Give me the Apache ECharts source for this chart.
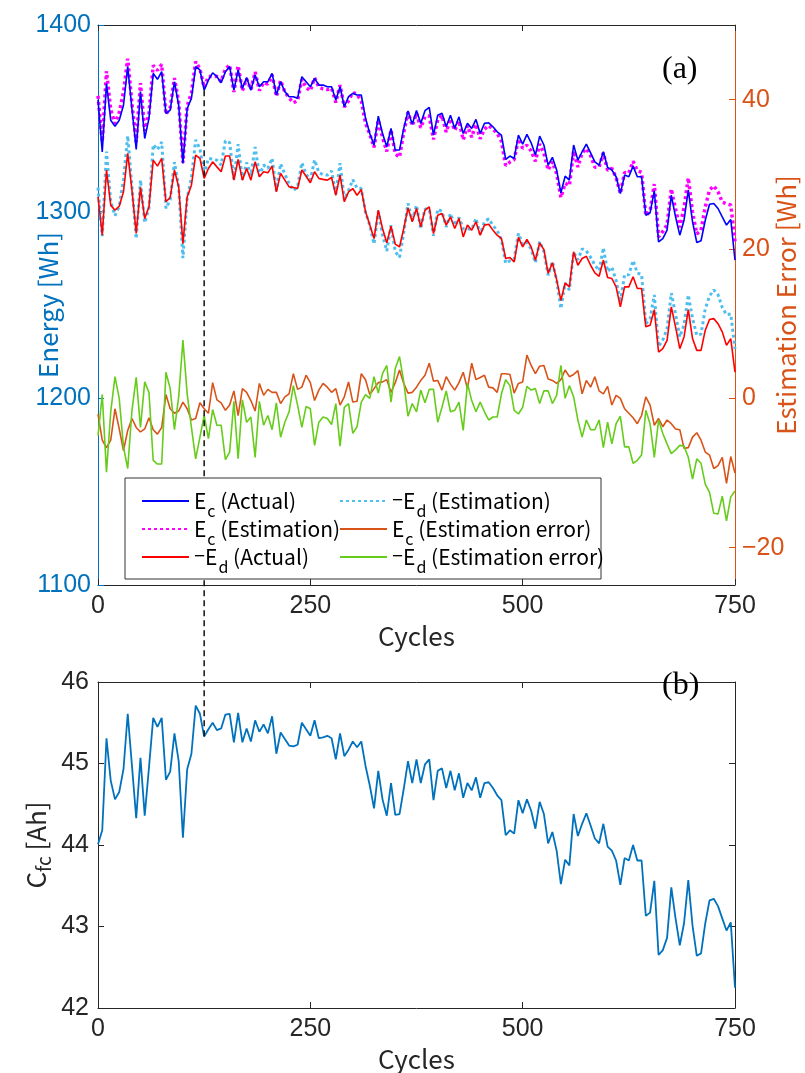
<!DOCTYPE html>
<html><head><meta charset="utf-8">
<script src="https://cdn.jsdelivr.net/npm/echarts@6/dist/echarts.min.js"></script>
<style>html,body{margin:0;padding:0;background:#fff}#c{width:805px;height:1073px}</style>
</head><body><div id="c"></div>
<script>
const cycles = [0,5,10,15,20,25,30,35,40,45,50,55,60,65,70,75,80,85,90,95,100,105,110,115,120,125,130,135,140,145,150,155,160,165,170,175,180,185,190,195,200,205,210,215,220,225,230,235,240,245,250,255,260,265,270,275,280,285,290,295,300,305,310,315,320,325,330,335,340,345,350,355,360,365,370,375,380,385,390,395,400,405,410,415,420,425,430,435,440,445,450,455,460,465,470,475,480,485,490,495,500,505,510,515,520,525,530,535,540,545,550,555,560,565,570,575,580,585,590,595,600,605,610,615,620,625,630,635,640,645,650,655,660,665,670,675,680,685,690,695,700,705,710,715,720,725,730,735,740,745,750];
const xTicks = [0,250,500,750];
const energyTicks = [1100,1200,1300,1400];
const errorTicks = [-20,0,20,40];
const cfcTicks = [42,43,44,45,46];

const ecActual = [
1360.0,1332.0,1368.7,1349.0,1345.8,1349.0,1357.0,1377.7,1355.0,1333.3,
1364.3,1339.2,1350.0,1374.1,1370.9,1375.0,1352.6,1354.4,1369.6,1357.0,
1325.8,1355.3,1360.7,1377.7,1375.9,1365.1,1370.5,1374.4,1372.3,1369.1,
1375.0,1377.7,1365.1,1375.9,1366.0,1371.9,1365.1,1373.2,1366.9,1369.6,
1369.6,1374.1,1362.5,1369.6,1364.3,1361.6,1361.6,1360.7,1372.3,1369.6,
1366.9,1371.4,1367.8,1367.8,1366.9,1366.9,1359.8,1366.9,1356.2,1361.6,
1363.4,1362.5,1362.5,1350.0,1341.9,1335.7,1351.2,1341.9,1334.8,1344.6,
1333.0,1333.0,1344.6,1354.0,1346.8,1354.2,1347.3,1354.1,1355.9,1341.0,
1351.7,1352.7,1345.5,1351.7,1344.6,1350.8,1341.9,1347.3,1344.6,1349.4,
1341.9,1347.3,1347.6,1345.5,1342.8,1341.0,1328.0,1329.8,1328.5,1341.0,
1336.2,1341.4,1336.9,1330.3,1340.5,1335.7,1324.9,1329.1,1322.3,1310.1,
1319.0,1316.9,1335.7,1327.6,1332.1,1336.2,1331.5,1326.7,1324.9,1332.1,
1323.7,1322.3,1318.7,1309.7,1319.6,1318.7,1324.4,1318.7,1318.7,1298.1,
1299.4,1311.2,1283.8,1285.6,1290.1,1308.8,1297.2,1287.4,1295.4,1311.5,
1294.6,1283.5,1284.4,1295.4,1304.0,1304.4,1301.7,1297.2,1292.8,1295.8,
1274.0];
const ecEstimation = [
1362.0,1337.6,1375.3,1354.6,1347.2,1353.1,1364.0,1382.0,1357.7,1337.2,
1368.8,1343.3,1352.6,1378.3,1375.7,1378.9,1352.1,1355.8,1371.6,1358.7,
1326.3,1356.7,1363.6,1380.4,1376.5,1366.5,1372.5,1372.3,1372.5,1369.7,
1376.6,1378.6,1364.1,1378.2,1364.7,1371.1,1365.4,1374.9,1364.9,1369.2,
1368.4,1373.3,1361.7,1370.3,1364.1,1361.0,1358.3,1359.5,1370.8,1366.5,
1364.8,1371.7,1366.7,1365.8,1365.4,1366.1,1358.5,1367.8,1356.0,1359.4,
1363.9,1362.9,1359.2,1347.5,1341.4,1334.4,1349.1,1339.7,1332.3,1343.8,
1330.9,1329.2,1342.6,1353.3,1346.0,1352.7,1344.9,1351.0,1351.2,1338.7,
1349.3,1351.6,1342.6,1349.8,1343.5,1348.7,1338.4,1346.0,1339.9,1346.9,
1339.1,1344.2,1346.1,1344.1,1342.0,1337.7,1324.7,1326.6,1327.8,1339.0,
1334.0,1335.6,1332.5,1327.0,1336.2,1331.3,1322.3,1326.7,1320.3,1307.6,
1315.2,1314.0,1332.5,1323.9,1331.5,1333.8,1330.0,1323.8,1323.9,1331.5,
1322.1,1323.2,1318.3,1309.7,1321.0,1320.7,1327.0,1322.1,1321.0,1297.9,
1300.3,1314.8,1286.5,1289.4,1293.0,1312.2,1301.3,1291.6,1302.1,1318.1,
1299.8,1288.1,1290.0,1302.6,1311.6,1313.8,1310.7,1305.1,1304.2,1303.6,
1284.0];
const edActual = [
1307.9,1287.4,1322.3,1303.5,1300.8,1302.9,1310.6,1331.2,1311.5,1288.3,
1313.0,1296.3,1302.6,1327.6,1324.4,1328.5,1305.3,1307.6,1322.3,1313.3,
1282.9,1307.9,1314.2,1330.3,1328.5,1317.8,1323.1,1326.7,1324.0,1321.4,
1329.8,1329.8,1316.9,1328.0,1316.9,1323.1,1316.9,1326.7,1318.7,1321.4,
1320.8,1324.4,1310.6,1320.5,1316.9,1313.3,1313.0,1312.4,1322.3,1319.0,
1315.5,1321.4,1317.8,1317.3,1316.9,1318.3,1308.8,1319.6,1305.3,1310.6,
1312.4,1308.8,1311.9,1299.9,1292.8,1285.6,1300.8,1291.0,1283.3,1292.2,
1282.6,1281.1,1291.0,1302.0,1294.6,1301.7,1291.9,1300.8,1302.6,1288.3,
1298.1,1299.0,1292.8,1297.2,1291.0,1296.4,1286.5,1292.8,1290.1,1294.6,
1287.4,1292.8,1293.3,1290.1,1287.4,1285.6,1274.9,1275.4,1273.1,1286.2,
1281.1,1285.1,1281.1,1274.0,1283.3,1279.7,1266.9,1272.6,1263.6,1252.5,
1261.8,1259.7,1278.5,1271.3,1274.9,1276.1,1271.3,1267.2,1265.4,1274.0,
1264.7,1264.2,1259.7,1249.0,1259.7,1259.7,1265.1,1258.8,1258.8,1238.3,
1239.1,1247.5,1224.8,1226.6,1231.1,1249.0,1238.3,1226.6,1232.9,1247.5,
1232.0,1225.7,1225.7,1236.5,1242.2,1242.7,1240.0,1235.6,1228.4,1232.0,
1214.0];
const edEstimation = [
1312.9,1286.9,1332.2,1305.3,1297.9,1302.9,1317.1,1340.6,1313.1,1285.5,
1316.9,1294.1,1301.8,1335.9,1333.2,1337.3,1301.8,1306.3,1326.5,1313.1,
1275.1,1307.3,1318.1,1338.4,1333.7,1320.1,1328.5,1328.2,1327.6,1325.0,
1338.0,1337.0,1317.3,1336.1,1317.1,1326.3,1319.4,1334.6,1319.1,1325.0,
1323.1,1328.6,1311.2,1325.7,1320.1,1315.1,1311.3,1313.3,1326.2,1320.1,
1316.9,1327.7,1321.0,1319.8,1319.6,1321.8,1309.5,1326.0,1306.5,1311.3,
1317.1,1312.6,1312.4,1299.4,1292.8,1282.7,1300.1,1287.7,1278.9,1292.7,
1278.6,1275.5,1288.8,1304.4,1295.3,1303.5,1290.8,1301.4,1301.4,1287.1,
1301.3,1300.2,1291.8,1299.0,1292.6,1296.9,1290.8,1290.8,1290.4,1296.4,
1287.9,1294.6,1296.2,1292.6,1289.9,1285.0,1272.4,1273.7,1274.7,1288.3,
1282.3,1283.5,1280.0,1272.7,1284.0,1278.7,1265.9,1273.3,1263.2,1248.1,
1261.8,1258.0,1278.3,1274.2,1280.1,1279.0,1275.5,1271.4,1268.3,1280.6,
1267.9,1270.3,1263.1,1251.4,1266.2,1266.2,1273.8,1267.1,1266.4,1239.9,
1242.5,1255.4,1227.7,1231.3,1237.2,1256.4,1245.2,1232.9,1239.3,1255.4,
1242.8,1233.8,1234.4,1248.0,1254.8,1258.1,1255.5,1248.7,1244.8,1245.2,
1226.4];
const ecError = [
-2.1,-5.6,-6.6,-5.6,-1.4,-4.1,-7.0,-4.3,-2.7,-3.9,
-4.5,-4.1,-2.6,-4.2,-4.8,-3.9,0.5,-1.4,-2.0,-1.7,
-0.5,-1.4,-2.9,-2.7,-0.6,-1.4,-2.0,2.1,-0.2,-0.6,
-1.6,-0.9,1.0,-2.3,1.3,0.8,-0.3,-1.7,2.0,0.4,
1.2,0.8,0.8,-0.7,0.2,0.6,3.3,1.2,1.5,3.1,
2.1,-0.3,1.1,2.0,1.5,0.8,1.3,-0.9,0.2,2.2,
-0.5,-0.4,3.3,2.5,0.5,1.3,2.1,2.2,2.5,0.8,
2.1,3.8,2.0,0.7,0.8,1.5,2.4,3.1,4.7,2.3,
2.4,1.1,2.9,1.9,1.1,2.1,3.5,1.3,4.7,2.5,
2.8,3.1,1.5,1.4,0.8,3.3,3.3,3.2,0.7,2.0,
2.2,5.8,4.4,3.3,4.3,4.4,2.6,2.4,2.0,2.5,
3.8,2.9,3.2,3.7,0.6,2.4,1.5,2.9,1.0,0.6,
1.6,-0.9,0.4,0.0,-1.4,-2.0,-2.6,-3.4,-2.3,0.2,
-0.9,-3.6,-2.7,-3.8,-2.9,-3.4,-4.1,-4.2,-6.7,-6.6,
-5.2,-4.6,-5.6,-7.2,-7.6,-9.4,-9.0,-7.9,-11.4,-7.8,
-10.0];
const edError = [
-5.0,0.5,-9.9,-1.8,2.9,0.0,-6.5,-9.4,-1.6,2.8,
-3.9,2.2,0.8,-8.3,-8.8,-8.8,3.5,1.3,-4.2,0.2,
7.8,0.6,-3.9,-8.1,-5.2,-2.3,-5.4,-1.5,-3.6,-3.6,
-8.2,-7.2,-0.4,-8.1,-0.2,-3.2,-2.5,-7.9,-0.4,-3.6,
-2.3,-4.2,-0.6,-5.2,-3.2,-1.8,1.7,-0.9,-3.9,-1.1,
-1.4,-6.3,-3.2,-2.5,-2.7,-3.5,-0.7,-6.4,-1.2,-0.7,
-4.7,-3.8,-0.5,0.5,0.0,2.9,0.7,3.3,4.4,-0.5,
4.0,5.6,2.2,-2.4,-0.7,-1.8,1.1,-0.6,1.2,1.2,
-3.2,-1.2,1.0,-1.8,-1.6,-0.5,-4.3,2.0,-0.3,-1.8,
-0.5,-1.8,-2.9,-2.5,-2.5,0.6,2.5,1.7,-1.6,-2.1,
-1.2,1.6,1.1,1.3,-0.7,1.0,1.0,-0.7,0.4,4.4,
0.0,1.7,0.2,-2.9,-5.2,-2.9,-4.2,-4.2,-2.9,-6.6,
-3.2,-6.1,-3.4,-2.4,-6.5,-6.5,-8.7,-8.3,-7.6,-1.6,
-3.4,-7.9,-2.9,-4.7,-6.1,-7.4,-6.9,-6.3,-6.4,-7.9,
-10.8,-8.1,-8.7,-11.5,-12.6,-15.4,-15.5,-13.1,-16.4,-13.2,
-12.4];
const cfc = [
44.01,44.18,45.31,44.79,44.56,44.65,44.93,45.61,44.97,44.33,
45.07,44.36,44.95,45.56,45.45,45.56,44.80,44.90,45.37,45.03,
44.09,44.93,45.12,45.71,45.61,45.33,45.42,45.50,45.41,45.43,
45.60,45.61,45.26,45.62,45.26,45.43,45.27,45.53,45.39,45.48,
45.37,45.58,45.12,45.38,45.30,45.22,45.21,45.23,45.50,45.42,
45.34,45.53,45.31,45.32,45.34,45.31,45.05,45.37,45.09,45.17,
45.27,45.20,45.27,44.97,44.73,44.45,44.91,44.56,44.36,44.76,
44.37,44.38,44.69,45.03,44.76,45.05,44.76,44.99,45.05,44.55,
44.91,44.94,44.70,44.91,44.67,44.88,44.58,44.76,44.67,44.83,
44.58,44.76,44.77,44.70,44.61,44.55,44.12,44.18,44.14,44.55,
44.39,44.56,44.42,44.20,44.53,44.38,44.02,44.16,43.93,43.52,
43.82,43.75,44.38,44.11,44.26,44.39,44.24,44.08,44.02,44.26,
43.98,43.93,43.81,43.51,43.84,43.81,44.00,43.81,43.81,43.13,
43.17,43.56,42.65,42.71,42.86,43.48,43.10,42.77,43.04,43.57,
43.01,42.64,42.67,43.04,43.32,43.34,43.25,43.10,42.95,43.05,
42.25];
const markCycle = 125;

const seriesNames = ['Ec (Actual)','Ec (Estimation)','-Ed (Actual)','-Ed (Estimation)','Ec (Estimation error)','-Ed (Estimation error)'];
const legendRich = {
  'Ec (Actual)': '{m|E}{s|c}{m| (Actual)}',
  'Ec (Estimation)': '{m|E}{s|c}{m| (Estimation)}',
  '-Ed (Actual)': '{n|\u2212}{m|E}{s|d}{m| (Actual)}',
  '-Ed (Estimation)': '{n|\u2212}{m|E}{s|d}{m| (Estimation)}',
  'Ec (Estimation error)': '{m|E}{s|c}{m| (Estimation error)}',
  '-Ed (Estimation error)': '{n|\u2212}{m|E}{s|d}{m| (Estimation error)}'
};

const tickFont = "'Liberation Sans Narrow','Liberation Sans',Arial,sans-serif";
const labFont = "'Noto Sans CJK JP','Noto Sans',sans-serif";
const AXBLUE = '#0072BD', AXORANGE = '#D95319', INK = '#262626';
const fmtPlain = v => (v < 0 ? '\u2212' + Math.abs(v) : String(v));
const pair = ys => cycles.map((x, i) => [x, ys[i]]);

const chart = echarts.init(document.getElementById('c'), null, {renderer: 'canvas'});

function xAx(grid, pos, show) {
  return {
    type: 'value', gridIndex: grid, position: pos, min: 0, max: 750, interval: 250,
    axisLine: {show: true, onZero: false, lineStyle: {color: INK, width: 1}},
    axisTick: {show: true, inside: true, length: 6, lineStyle: {color: INK}},
    axisLabel: {show: show, color: INK, fontFamily: tickFont, fontSize: 25, margin: 9, formatter: fmtPlain},
    splitLine: {show: false},
    name: show ? 'Cycles' : '', nameLocation: 'middle', nameGap: 38, nameMoveOverlap: false,
    nameTextStyle: {color: INK, fontFamily: labFont, fontSize: 26}
  };
}
const legendCommon = {
  orient: 'vertical', itemWidth: 47, itemHeight: 14, itemGap: -8, z: 6,
  itemStyle: {opacity: 0},
  formatter: n => legendRich[n],
  textStyle: {
    color: '#000', fontFamily: labFont, fontSize: 21,
    rich: {
      n: {fontFamily: "'Liberation Sans',sans-serif", fontSize: 19, lineHeight: 26, color: '#000'},
      m: {fontFamily: labFont, fontSize: 21, lineHeight: 26, color: '#000'},
      s: {fontFamily: labFont, fontSize: 16, lineHeight: 16, padding: [20, 0, 0, 1], color: '#000'}
    }
  }
};

const option = {
  animation: false,
  backgroundColor: '#fff',
  grid: [
    {left: 98, top: 25, width: 637, height: 560, outerBoundsMode: 'none', containLabel: false},
    {left: 98, top: 682, width: 637, height: 326, outerBoundsMode: 'none', containLabel: false}
  ],
  xAxis: [xAx(0, 'bottom', true), xAx(0, 'top', false), xAx(1, 'bottom', true), xAx(1, 'top', false)],
  yAxis: [
    {type: 'value', gridIndex: 0, position: 'left', min: 1100, max: 1400, interval: 100,
     axisLine: {show: true, onZero: false, lineStyle: {color: AXBLUE}},
     axisTick: {show: true, inside: true, length: 6, lineStyle: {color: AXBLUE}},
     axisLabel: {color: AXBLUE, fontFamily: tickFont, fontSize: 25, margin: 7, formatter: fmtPlain},
     splitLine: {show: false}, minorTick: {show: false},
     name: 'Energy [Wh]', nameLocation: 'middle', nameRotate: 90, nameGap: 37, nameMoveOverlap: false,
     nameTextStyle: {color: AXBLUE, fontFamily: labFont, fontSize: 26}},
    {type: 'value', gridIndex: 0, position: 'right', min: -25, max: 50,
     axisLine: {show: true, onZero: false, lineStyle: {color: AXORANGE}},
     axisTick: {show: true, inside: true, length: 6, lineStyle: {color: AXORANGE}, customValues: errorTicks},
     axisLabel: {color: AXORANGE, fontFamily: tickFont, fontSize: 25, margin: 7, customValues: errorTicks, formatter: fmtPlain},
     splitLine: {show: false}, minorTick: {show: false},
     name: 'Estimation Error [Wh]', nameLocation: 'middle', nameRotate: 90, nameGap: 38, nameMoveOverlap: false,
     nameTextStyle: {color: AXORANGE, fontFamily: labFont, fontSize: 26}},
    {type: 'value', gridIndex: 1, position: 'left', min: 42, max: 46, interval: 1,
     axisLine: {show: true, onZero: false, lineStyle: {color: INK}},
     axisTick: {show: true, inside: true, length: 6, lineStyle: {color: INK}},
     axisLabel: {color: INK, fontFamily: tickFont, fontSize: 25, margin: 9, formatter: fmtPlain},
     splitLine: {show: false},
     name: '{a|C}{b|fc}{a| [Ah]}', nameLocation: 'middle', nameRotate: 90, nameGap: 45, nameMoveOverlap: false,
     nameTextStyle: {color: INK, fontFamily: labFont, fontSize: 26,
       rich: {a: {fontFamily: labFont, fontSize: 26, lineHeight: 34, color: INK},
              b: {fontFamily: labFont, fontSize: 19, lineHeight: 10, verticalAlign: 'bottom', color: INK}}}},
    {type: 'value', gridIndex: 1, position: 'right', min: 42, max: 46, interval: 1,
     axisLine: {show: true, onZero: false, lineStyle: {color: INK}},
     axisTick: {show: true, inside: true, length: 6, lineStyle: {color: INK}},
     axisLabel: {show: false}, splitLine: {show: false}}
  ],
  legend: [
    Object.assign({left: 136, top: 478, data: seriesNames.slice(0, 3)}, legendCommon),
    Object.assign({left: 334, top: 478, data: seriesNames.slice(3, 6)}, legendCommon)
  ],
  series: [
    {name: 'Ec (Estimation)', type: 'line', xAxisIndex: 0, yAxisIndex: 0, data: pair(ecEstimation), symbol: 'none', z: 2,
     lineStyle: {color: '#FF00FF', width: 3.5, type: [3, 3], cap: 'butt'}, itemStyle: {color: '#FF00FF'}},
    {name: 'Ec (Actual)', type: 'line', xAxisIndex: 0, yAxisIndex: 0, data: pair(ecActual), symbol: 'none', z: 3,
     lineStyle: {color: '#0000FF', width: 1.6}, itemStyle: {color: '#0000FF'}},
    {name: '-Ed (Estimation)', type: 'line', xAxisIndex: 0, yAxisIndex: 0, data: pair(edEstimation), symbol: 'none', z: 2,
     lineStyle: {color: '#4DBEEE', width: 3, type: [3, 3], cap: 'butt'}, itemStyle: {color: '#4DBEEE'}},
    {name: '-Ed (Actual)', type: 'line', xAxisIndex: 0, yAxisIndex: 0, data: pair(edActual), symbol: 'none', z: 3,
     lineStyle: {color: '#FF0000', width: 1.6}, itemStyle: {color: '#FF0000'}},
    {name: 'Ec (Estimation error)', type: 'line', xAxisIndex: 0, yAxisIndex: 1, data: pair(ecError), symbol: 'none', z: 3,
     lineStyle: {color: '#D95319', width: 1.6}, itemStyle: {color: '#D95319'}},
    {name: '-Ed (Estimation error)', type: 'line', xAxisIndex: 0, yAxisIndex: 1, data: pair(edError), symbol: 'none', z: 3,
     lineStyle: {color: '#66CC1A', width: 1.6}, itemStyle: {color: '#66CC1A'}},
    {name: 'Cfc', type: 'line', xAxisIndex: 2, yAxisIndex: 2, data: pair(cfc), symbol: 'none', z: 3,
     lineStyle: {color: AXBLUE, width: 1.8}, itemStyle: {color: AXBLUE}}
  ],
  graphic: [
    {id: 'legbox', type: 'rect', z: 5, shape: {x: 125, y: 478, width: 476, height: 101},
     style: {fill: '#fff', stroke: '#333', lineWidth: 1}},
    {id: 'ta', type: 'text', z: 5, left: 662, top: 54, style: {text: '(a)', font: '32px "Liberation Serif", serif', fill: '#000'}},
    {id: 'tb', type: 'text', z: 5, left: 662, top: 670, style: {text: '(b)', font: '32px "Liberation Serif", serif', fill: '#000'}}
  ]
};
chart.setOption(option);

const mi = cycles.indexOf(markCycle);
const p1 = chart.convertToPixel({xAxisIndex: 0, yAxisIndex: 0}, [markCycle, ecActual[mi]]);
const p2 = chart.convertToPixel({xAxisIndex: 2, yAxisIndex: 2}, [markCycle, cfc[mi]]);
chart.setOption({graphic: [{id: 'dash', type: 'line', z: 4,
  shape: {x1: p1[0], y1: p1[1], x2: p2[0], y2: p2[1]},
  style: {stroke: '#111', lineWidth: 1.5, lineDash: [6, 4]}}]});
</script></body></html>
